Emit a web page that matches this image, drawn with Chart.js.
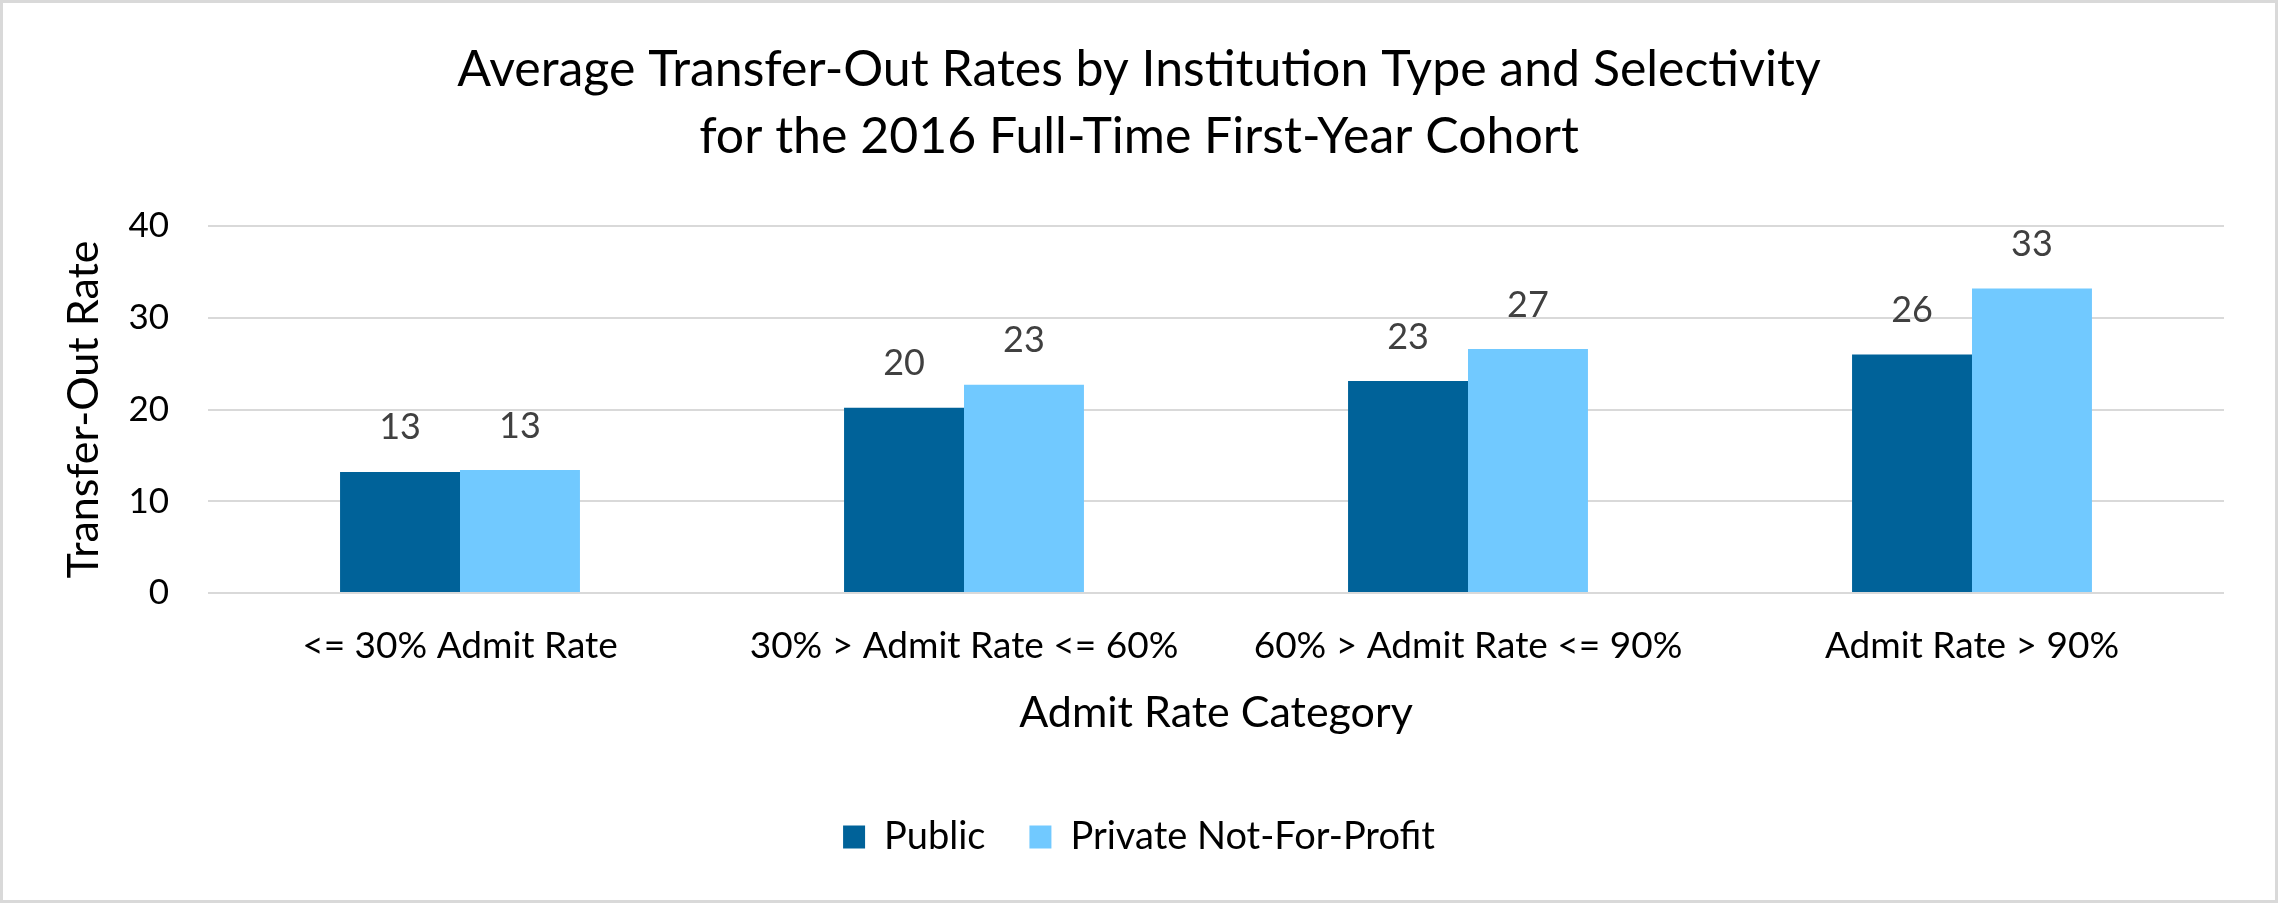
<!DOCTYPE html>
<html>
<head>
<meta charset="utf-8">
<script src="https://cdn.jsdelivr.net/npm/chart.js@4"></script>
<style>
  html, body { margin: 0; padding: 0; background: #fff; }
  #wrap { width: 2272px; height: 897px; border: 3px solid #d9d9d9; background: #fff; }
  canvas { display: block; }
</style>
</head>
<body>
<div id="wrap"><canvas id="c" width="2272" height="897"></canvas></div>
<script>
const categories = ["<= 30% Admit Rate", "30% > Admit Rate <= 60%", "60% > Admit Rate <= 90%", "Admit Rate > 90%"];
const seriesNames = ["Public", "Private Not-For-Profit"];
const publicValues = [13.2, 20.2, 23.1, 26.0];
const privateValues = [13.4, 22.7, 26.6, 33.2];
const yTicks = [0, 10, 20, 30, 40];
const titleLines = ["Average Transfer-Out Rates by Institution Type and Selectivity", "for the 2016 Full-Time First-Year Cohort"];
const xTitle = "Admit Rate Category";
const yTitle = "Transfer-Out Rate";

const FONT = "Lato, 'Open Sans', sans-serif";

const valueLabels = {
  id: 'valueLabels',
  afterDatasetsDraw(chart) {
    const ctx = chart.ctx;
    ctx.save();
    ctx.font = "36px " + FONT;
    ctx.fillStyle = "#404040";
    ctx.textAlign = "center";
    ctx.textBaseline = "middle";
    chart.data.datasets.forEach((ds, di) => {
      const meta = chart.getDatasetMeta(di);
      meta.data.forEach((el, i) => {
        ctx.fillText(String(Math.round(ds.data[i])), el.x, el.y - 44);
      });
    });
    ctx.restore();
  }
};

new Chart(document.getElementById('c'), {
  type: 'bar',
  data: {
    labels: categories,
    datasets: [
      { label: seriesNames[0], data: publicValues, backgroundColor: "#006299", borderWidth: 0,
        categoryPercentage: 0.476, barPercentage: 1.0 },
      { label: seriesNames[1], data: privateValues, backgroundColor: "#71C9FF", borderWidth: 0,
        categoryPercentage: 0.476, barPercentage: 1.0 }
    ]
  },
  options: {
    responsive: false,
    animation: false,
    devicePixelRatio: 1,
    layout: { padding: { left: 51, right: 51, top: 0, bottom: 34 } },
    plugins: {
      tooltip: { enabled: false },
      title: {
        display: true,
        text: titleLines,
        color: "#000",
        font: { family: FONT, size: 50, weight: 'normal', lineHeight: 1.34 },
        padding: { top: 33, bottom: 56 }
      },
      legend: {
        display: true,
        position: 'bottom',
        labels: {
          color: "#000",
          font: { family: FONT, size: 38 },
          boxWidth: 22,
          boxHeight: 23,
          padding: 44
        }
      }
    },
    scales: {
      x: {
        grid: { display: false },
        border: { display: false },
        ticks: { color: "#000", font: { family: FONT, size: 37 }, padding: 23, maxRotation: 0 },
        title: { display: true, text: xTitle, color: "#000", font: { family: FONT, size: 43, lineHeight: 1.2 }, padding: { top: 0, bottom: 35 } },
        afterFit(scale) { scale.height = 181; }
      },
      y: {
        min: 0, max: 40,
        afterBuildTicks(scale) { scale.ticks = yTicks.map(v => ({ value: v })); },
        grid: { color: "#d9d9d9", lineWidth: 2, drawTicks: false },
        border: { display: false },
        ticks: { color: "#000", font: { family: FONT, size: 35 }, padding: 39 },
        title: { display: true, text: yTitle, color: "#000", font: { family: FONT, size: 43, lineHeight: 1.2 }, padding: { top: 4, bottom: 0 } },
        afterFit(scale) { scale.width = 154; }
      }
    }
  },
  plugins: [valueLabels]
});
</script>
</body>
</html>
